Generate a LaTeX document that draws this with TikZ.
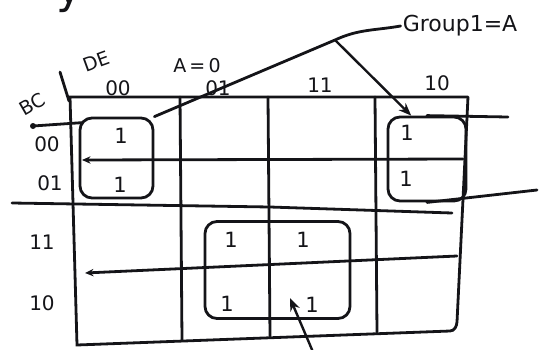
\documentclass[tikz,border=0pt]{standalone}
\usepackage{fontspec}
\setmainfont{DejaVu Sans}
\usetikzlibrary{arrows.meta,positioning}
\definecolor{PenInk}{RGB}{20,20,24}
\tikzset{
  kline/.style={line width=2.8pt,PenInk,line cap=round},
  kbit/.style={font=\fontsize{20}{24}\selectfont,text=PenInk,inner sep=1pt},
  klab/.style={font=\fontsize{19}{22}\selectfont,text=PenInk,inner sep=1pt},
  kone/.style={font=\fontsize{21}{24}\selectfont,text=PenInk,inner sep=0pt},
  grp/.style={draw=PenInk,rounded corners=12pt,line width=2.8pt,inner sep=0pt},
  ptr/.style={-{Stealth[length=4.5mm,width=3.5mm]},line width=2.4pt,PenInk},
  rowptr/.style={kline,{Stealth[length=3mm,width=2.6mm]}-},
}

\begin{document}
\begin{tikzpicture}[x=1pt,y=-1pt]
  \useasboundingbox (0,0) rectangle (541,349);
  % top fragment
  \node[font=\fontsize{44}{44}\selectfont,text=PenInk] (frag) at (70,-4) {y};
  % map outline and columns
  \draw[kline] (468,97) -- (70,97) -- (77,345) -- (450,331)
               to[out=0,in=-95] (457,322) -- (468,97);
  \draw[kline] (180,97) -- (182,340);
  \draw[kline] (268,97) -- (270,336);
  \draw[kline] (375,97) -- (377,332);
  % row lines
  \draw[rowptr] (82,160) -- (463,159);
  \draw[kline] (12,203) -- (270,207) -- (452,213);
  \draw[rowptr] (85,273) -- (457,256);
  % corner labels
  \draw[kline] (60,72) -- (69,101);
  \node[klab,rotate=30] (bc) at (32,104) {BC};
  \node[klab,rotate=20] (de) at (96,61) {DE};
  \node[klab] (aeq) at (197,66) {A\,=\,0};
  % column labels
  \node[kbit] (c00) at (118,88) {00};
  \node[kbit] (c01) at (218,88) {01};
  \node[kbit] (c11) at (320,85) {11};
  \node[kbit] (c10) at (437,83) {10};
  % row labels
  \node[kbit] (r00) at (47,144) {00};
  \node[kbit] (r01) at (50,183) {01};
  \node[kbit] (r11) at (42,242) {11};
  \node[kbit] (r10) at (42,303) {10};
  % groups
  \node[grp,minimum width=73pt,minimum height=80pt] (g1L) at (116.5,158) {};
  \node[grp,minimum width=78pt,minimum height=84pt] (g1R) at (427,159) {};
  \node[grp,minimum width=145pt,minimum height=97pt] (g2) at (277.5,270) {};
  \draw[kline] (g1L.north west) ++(4,6) -- (33,126);
  \fill[PenInk] (33,126) circle (3pt);
  \draw[kline] (g1R.north) -- (508,117);
  \draw[kline] (g1R.south) -- (537,190);
  % ones
  \node[kone] (m0) at (121,136) {1};
  \node[kone] (m1) at (120,185) {1};
  \node[kone] (m2) at (407,133) {1};
  \node[kone] (m3) at (406,179) {1};
  \node[kone] (m4) at (231,240) {1};
  \node[kone] (m5) at (303,240) {1};
  \node[kone] (m6) at (227,304) {1};
  \node[kone] (m7) at (312,305) {1};
  % group note
  \node[font=\fontsize{22}{26}\selectfont,text=PenInk,inner sep=2pt] (glab) at (460,26) {Group1=A};
  \coordinate (fork) at (335,40);
  \draw[kline] (glab.west) to[out=190,in=25] (fork) -- (g1L.north east);
  \draw[ptr] (fork) -- (g1R.110);
  \coordinate (tail) at (313,352);
  \coordinate (tip) at (290,298);
  \draw[ptr] (tail) -- (tip);
\end{tikzpicture}
\end{document}
